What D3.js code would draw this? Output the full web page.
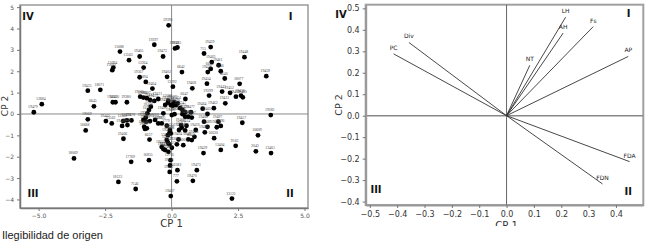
<!DOCTYPE html>
<html>
<head>
<meta charset="utf-8" />
<title>Componentes principales</title>
<script src="https://cdn.jsdelivr.net/npm/d3@7"></script>
<style>
	body { margin:0; background:#fff; }
	svg { display:block; }
	text { font-family: "DejaVu Sans", sans-serif; }
</style>
</head>
<body>
<svg width="650" height="241"></svg>
<script>
// scores (CP 1, CP 2) of each accession
const scoreIds = ['19479','12884','19425','18071','6645','19069','16668','18069','19442','13562',
	'19396','19397','19485','19033','15088','19405','13563','19472','15094','15092',
	'13264','19367','894','19404','19402','6642','13292','19468','19505','19506',
	'19507','19426','18426','19380','18432','19411','19421','13088','19430','19433',
	'19434','19436','19416','19418','1657','19387','19389','19391','19393','19068',
	'19395','13560','13559','19478','19440','19441','19438','2779','19455','19456',
	'19406','19437','6637','15830','15831','19444','19445','19447','19449','19450',
	'17769','16855','12705','19448','19463','19461','6623','19428','6646','19439',
	'715','19459','6640','19454','18077','19399','19443','19452','19453','19458',
	'19460','19431','19462','19464','6647','19451','19469','19471','19474','19475',
	'19476','19477','19465','19481','19482','19483','19484','19486','19487','19382',
	'19457','19488','19489','19490','19495','19496','19497','19412','19413','19414',
	'19415','19417','19419','19480','6644','6648','16630','16609','9162','13404',
	'2043','13461','19429','19420','19422','13668','19423','13121','18123','7146',
	'19467','19470','19473','777','16583','19492','19493','13661','19494','19498',
	'19499','19500'];
const scoreCp1 = [-5.18,-4.88,-3.15,-2.68,-2.92,-3.15,-3.23,-3.67,-2.47,-2.25,
	-0.11,-0.65,0.22,0.13,-1.94,-1.20,-1.60,-0.32,-2.19,-2.23,
	-1.05,-1.20,-0.97,-0.72,-0.17,0.39,0.05,0.78,-1.18,-1.06,
	-0.93,-2.21,-2.11,-1.68,-0.81,-0.65,-0.50,-0.12,-0.24,-0.03,
	0.05,0.17,-0.78,-0.85,-0.91,-0.97,-1.06,-0.96,-0.81,-0.62,
	-0.37,-1.82,-1.68,-1.51,-1.86,-1.66,-1.03,-0.18,-0.06,-0.03,
	-1.81,-1.00,-0.83,-0.18,-0.14,-0.37,-0.31,-0.24,-0.09,-0.12,
	-1.52,-0.85,-0.04,2.74,1.51,1.77,1.47,1.36,1.85,1.47,
	1.22,3.56,2.00,1.33,2.56,1.41,1.90,2.20,2.42,2.61,
	2.68,2.02,1.59,1.17,0.52,0.23,-0.14,0.09,0.32,0.41,
	0.51,0.73,1.35,0.01,0.11,0.41,0.51,0.63,0.76,3.73,
	2.66,1.22,1.35,1.25,1.70,1.85,1.76,0.36,0.38,0.56,
	0.51,0.28,0.91,0.86,0.76,0.63,1.60,3.25,2.41,1.85,
	3.17,3.74,1.20,-0.07,-0.14,0.20,0.01,2.27,-2.00,-1.35,
	-0.03,0.80,0.95,0.20,0.22,-0.07,-0.06,0.44,0.26,-0.50,
	-0.31,-0.93];
const scoreCp2 = [0.08,0.46,1.09,1.13,0.36,-0.25,-0.77,-2.08,-0.33,-0.44,
	4.15,3.24,3.11,3.07,2.92,2.69,2.52,2.69,2.17,2.05,
	2.17,1.72,1.50,1.19,1.74,1.96,1.28,1.20,0.81,0.77,
	0.74,0.55,0.55,0.55,0.66,0.61,0.70,0.61,0.42,0.42,
	0.38,0.42,0.34,0.19,0.03,-0.17,-0.28,-0.36,-0.33,-0.28,
	-0.44,-0.33,-0.30,-0.30,-0.56,-0.52,-0.60,-0.55,-0.75,-0.91,
	-1.16,-0.70,-1.20,-1.22,-1.33,-1.54,-1.64,-1.69,-1.42,-1.77,
	-2.24,-2.16,-2.16,2.66,2.43,2.28,2.11,1.96,2.00,3.13,
	2.83,1.77,1.66,1.42,1.41,0.86,1.05,0.99,0.81,0.86,
	0.78,0.50,0.27,0.25,0.70,0.50,0.53,0.55,0.27,0.19,
	0.08,0.08,0.00,-0.05,-0.01,-0.01,-0.13,-0.13,-0.17,-0.05,
	-0.41,-0.36,-0.60,-0.86,-0.62,-0.56,-0.36,-0.52,-0.64,-0.55,
	-0.77,-0.75,-0.75,-1.07,-1.22,-1.19,-1.13,-1.00,-1.49,-1.68,
	-1.75,-1.83,-1.83,-0.86,-0.99,-1.42,-1.58,-3.96,-3.18,-3.51,
	-3.84,-3.13,-2.63,-3.15,-2.63,-2.71,-2.41,-1.46,-1.19,-0.44,
	0.03,-0.67];

// loadings of the variables
const loadVars = ['LH','AH','Fs','AP','NT','Div','PC','FDA','FDN'];
const loadCp1 = [0.216,0.207,0.317,0.445,0.085,-0.357,-0.413,0.450,0.351];
const loadCp2 = [0.459,0.385,0.415,0.276,0.235,0.341,0.288,-0.214,-0.318];

const quadrants = ['I','II','III','IV'];
const scoreXTicks = [-5,-2.5,0,2.5,5];
const scoreYTicks = [-4,-3,-2,-1,0,1,2,3,4,5];
const loadXTicks = [-0.5,-0.4,-0.3,-0.2,-0.1,0,0.1,0.2,0.3,0.4];
const loadYTicks = [-0.4,-0.3,-0.2,-0.1,0,0.1,0.2,0.3,0.4,0.5];

let svg = d3.select('svg');

// ---------- panel 1: scores ----------
let xL = d3.scaleLinear().domain([-5.7, 5.13]).range([20, 308]);
let yL = d3.scaleLinear().domain([-4.4, 5.1]).range([208, 5]);

let g1 = svg.append('g');
g1.append('rect').attr('x', 20).attr('y', 5).attr('width', 288).attr('height', 203)
	.attr('fill', 'none').attr('stroke', '#9a9a9a').attr('stroke-width', 1.5);
g1.append('line').attr('x1', xL(0)).attr('x2', xL(0)).attr('y1', 5).attr('y2', 208)
	.attr('stroke', '#8a8a8a');
g1.append('line').attr('x1', 20).attr('x2', 308).attr('y1', yL(0)).attr('y2', yL(0))
	.attr('stroke', '#8a8a8a');

let axL = g1.append('g').attr('transform', 'translate(0,208)')
	.call(d3.axisBottom(xL).tickValues(scoreXTicks).tickFormat(d3.format('.1f')).tickSize(3).tickSizeOuter(0));
let ayL = g1.append('g').attr('transform', 'translate(20,0)')
	.call(d3.axisLeft(yL).tickValues(scoreYTicks).tickFormat(d3.format('d')).tickSize(3).tickSizeOuter(0));
[axL, ayL].forEach(a => {
	a.select('.domain').attr('stroke', '#777').attr('stroke-width', 1.5);
	a.selectAll('line').attr('stroke', '#777');
	a.selectAll('text').attr('font-size', 6).attr('fill', '#555');
});

g1.selectAll('circle.score').data(scoreIds).join('circle')
	.attr('class', 'score')
	.attr('cx', (d, i) => xL(scoreCp1[i]))
	.attr('cy', (d, i) => yL(scoreCp2[i]))
	.attr('r', 2.4).attr('fill', '#000');
g1.selectAll('text.sid').data(scoreIds).join('text')
	.attr('class', 'sid')
	.attr('x', (d, i) => xL(scoreCp1[i]) - 1)
	.attr('y', (d, i) => yL(scoreCp2[i]) - 4)
	.attr('text-anchor', 'middle')
	.attr('font-size', 3.8).attr('fill', '#444')
	.style('font-family', 'Liberation Serif')
	.text(d => d);

let qL = [[290.7, 20], [290, 197], [33, 197], [28, 20]];
quadrants.forEach((q, i) => {
	g1.append('text').attr('x', qL[i][0]).attr('y', qL[i][1]).attr('text-anchor', 'middle')
		.attr('font-size', 10).attr('font-weight', 'bold').attr('fill', '#111').text(q);
});
g1.append('text').attr('transform', 'translate(8,106) rotate(-90)').attr('text-anchor', 'middle')
	.attr('font-size', 9).attr('fill', '#333').text('CP 2');
g1.append('text').attr('x', xL(0)).attr('y', 227).attr('text-anchor', 'middle')
	.attr('font-size', 10).attr('fill', '#333').text('CP 1');

svg.append('text').attr('x', 2).attr('y', 239)
	.attr('font-size', 11).attr('fill', '#222').style('font-family', 'Liberation Sans')
	.text('Ilegibilidad de origen');

// ---------- panel 2: loadings ----------
let xR = d3.scaleLinear().domain([-0.515, 0.5]).range([365.7, 643.3]);
let yR = d3.scaleLinear().domain([-0.416, 0.517]).range([205, 4.7]);

svg.append('clipPath').attr('id', 'cut').append('rect')
	.attr('x', 330).attr('y', 0).attr('width', 320).attr('height', 226);
let g2 = svg.append('g').attr('clip-path', 'url(#cut)');

g2.append('rect').attr('x', 365.7).attr('y', 4.7).attr('width', 277.6).attr('height', 200.3)
	.attr('fill', 'none').attr('stroke', '#a0a0a0').attr('stroke-width', 2);
g2.append('line').attr('x1', xR(0)).attr('x2', xR(0)).attr('y1', 4.7).attr('y2', 205)
	.attr('stroke', '#666');
g2.append('line').attr('x1', 365.7).attr('x2', 643.3).attr('y1', yR(0)).attr('y2', yR(0))
	.attr('stroke', '#888').attr('stroke-width', 1.5);

let axR = g2.append('g').attr('transform', 'translate(0,205)')
	.call(d3.axisBottom(xR).tickValues(loadXTicks).tickFormat(d3.format('.1f')).tickSize(3).tickSizeOuter(0));
let ayR = g2.append('g').attr('transform', 'translate(365.7,0)')
	.call(d3.axisLeft(yR).tickValues(loadYTicks).tickFormat(d3.format('.1f')).tickSize(3).tickSizeOuter(0));
[axR, ayR].forEach(a => {
	a.select('.domain').attr('stroke', '#999').attr('stroke-width', 2);
	a.selectAll('line').attr('stroke', '#777');
	a.selectAll('text').attr('font-size', 8).attr('fill', '#333');
});

g2.selectAll('line.load').data(loadVars).join('line')
	.attr('class', 'load')
	.attr('x1', xR(0)).attr('y1', yR(0))
	.attr('x2', (d, i) => xR(loadCp1[i]))
	.attr('y2', (d, i) => yR(loadCp2[i]))
	.attr('stroke', '#333').attr('stroke-width', 0.9);
g2.selectAll('text.lv').data(loadVars).join('text')
	.attr('class', 'lv')
	.attr('x', (d, i) => xR(loadCp1[i]))
	.attr('y', (d, i) => yR(loadCp2[i]) - 4)
	.attr('text-anchor', 'middle')
	.attr('font-size', 6).attr('fill', '#222')
	.text(d => d);

let qR = [[628.7, 17], [628.3, 195], [376, 193], [341, 18]];
quadrants.forEach((q, i) => {
	g2.append('text').attr('x', qR[i][0]).attr('y', qR[i][1]).attr('text-anchor', 'middle')
		.attr('font-size', 10).attr('font-weight', 'bold').attr('fill', '#111').text(q);
});
g2.append('text').attr('transform', 'translate(342,105) rotate(-90)').attr('text-anchor', 'middle')
	.attr('font-size', 9.5).attr('fill', '#333').text('CP 2');
g2.append('text').attr('x', xR(0)).attr('y', 229).attr('text-anchor', 'middle')
	.attr('font-size', 10).attr('fill', '#333').text('CP 1');
</script>
</body>
</html>
